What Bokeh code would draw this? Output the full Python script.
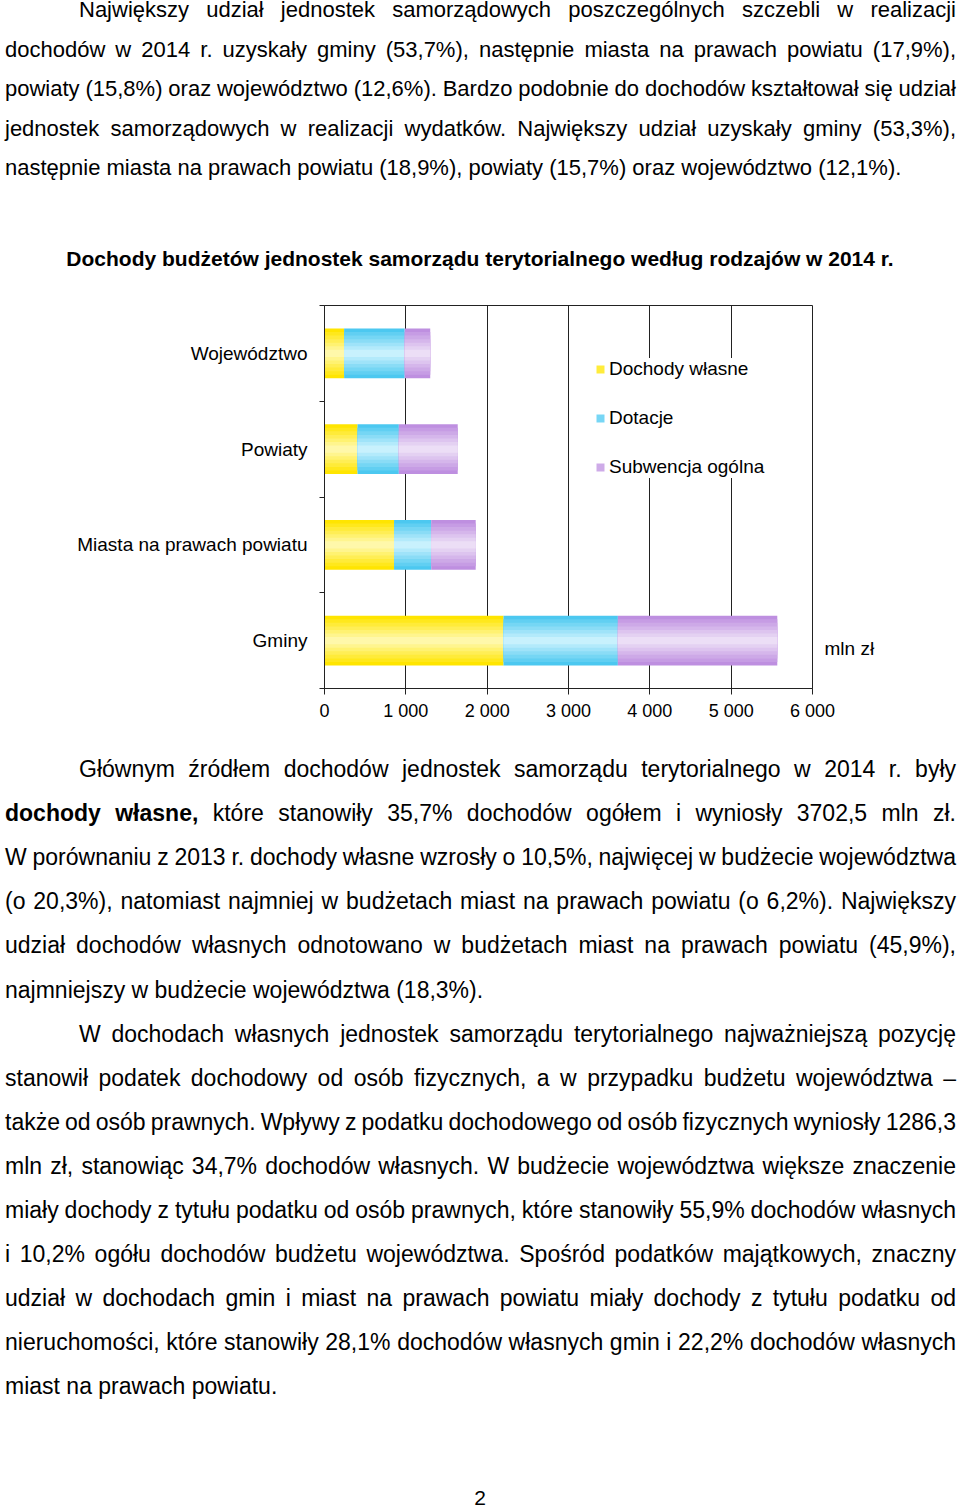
from bokeh.plotting import figure
from bokeh.models import Div, Range1d, FixedTicker, Legend, LegendItem, LinearAxis
from bokeh.layouts import column
from bokeh.embed import file_html
from bokeh.resources import INLINE

# ---------------- data ----------------
categories = ["Województwo", "Powiaty", "Miasta na prawach powiatu", "Gminy"]
series_names = ["Dochody własne", "Dotacje", "Subwencja ogólna"]
dochody_wlasne = [241, 406, 855, 2201]
dotacje = [745, 508, 457, 1406]
subwencja_ogolna = [314, 724, 547, 1960]
x_ticks = [0, 1000, 2000, 3000, 4000, 5000, 6000]
x_tick_labels = ["0", "1 000", "2 000", "3 000", "4 000", "5 000", "6 000"]
unit_label = "mln zł"
chart_title = "Dochody budżetów jednostek samorządu terytorialnego według rodzajów w 2014 r."

top_lines = [
    "Największy udział jednostek samorządowych poszczególnych szczebli w realizacji",
    "dochodów w 2014 r. uzyskały gminy (53,7%), następnie miasta na prawach powiatu (17,9%),",
    "powiaty (15,8%) oraz województwo (12,6%). Bardzo podobnie do dochodów kształtował się udział",
    "jednostek samorządowych w realizacji wydatków. Największy udział uzyskały gminy (53,3%),",
    "następnie miasta na prawach powiatu (18,9%), powiaty (15,7%) oraz województwo (12,1%).",
]
bottom_lines = [
    "Głównym źródłem dochodów jednostek samorządu terytorialnego w 2014 r. były",
    "<b>dochody własne,</b> które stanowiły 35,7% dochodów ogółem i wyniosły 3702,5 mln&nbsp;zł.",
    "W porównaniu z 2013 r. dochody własne wzrosły o 10,5%, najwięcej w budżecie województwa",
    "(o 20,3%), natomiast najmniej w budżetach miast na prawach powiatu (o 6,2%). Największy",
    "udział dochodów własnych odnotowano w budżetach miast na prawach powiatu (45,9%),",
    "najmniejszy w budżecie województwa (18,3%).",
    "W dochodach własnych jednostek samorządu terytorialnego najważniejszą pozycję",
    "stanowił podatek dochodowy od osób fizycznych, a w przypadku budżetu województwa –",
    "także od osób prawnych. Wpływy z podatku dochodowego od osób fizycznych wyniosły 1286,3",
    "mln zł, stanowiąc 34,7% dochodów własnych. W budżecie województwa większe znaczenie",
    "miały dochody z tytułu podatku od osób prawnych, które stanowiły 55,9% dochodów własnych",
    "i 10,2% ogółu dochodów budżetu województwa. Spośród podatków majątkowych, znaczny",
    "udział w dochodach gmin i miast na prawach powiatu miały dochody z tytułu podatku od",
    "nieruchomości, które stanowiły 28,1% dochodów własnych gmin i 22,2% dochodów własnych",
    "miast na prawach powiatu.",
]
top_indent = [True, False, False, False, False]
top_last = [False, False, False, False, True]
bottom_indent = [True] + [False] * 5 + [True] + [False] * 8
bottom_last = [False] * 5 + [True] + [False] * 8 + [True]
page_number = "2"

FONT = "'Liberation Sans', Arial, sans-serif"


def text_line(txt, center, fs, indent, last):
    lh = 20
    align = "left" if last else "justify"
    ws = "0px" if last else "-4px"
    st = (f"position:absolute;left:5px;width:951px;top:{center - lh / 2}px;height:{lh}px;"
          f"line-height:{lh}px;font-size:{fs}px;font-family:{FONT};color:#000;"
          f"white-space:nowrap;word-spacing:{ws};text-align:{align};text-align-last:{align};"
          f"{'text-indent:74px;' if indent else ''}")
    return f'<div style="{st}">{txt}</div>'


# ---------------- top text ----------------
top_html = ['<div style="position:relative;width:960px;height:282px;">']
for i, (t, ind, last) in enumerate(zip(top_lines, top_indent, top_last)):
    top_html.append(text_line(t, 10 + 39.5 * i, 22, ind, last))
top_html.append(
    f'<div style="position:absolute;left:0;width:960px;top:249px;height:20px;line-height:20px;'
    f'font-size:21px;font-weight:bold;font-family:{FONT};text-align:center;white-space:nowrap;color:#000;">'
    f'{chart_title}</div>')
top_html.append('</div>')
top_div = Div(text="".join(top_html), width=960, height=282, margin=0)

# ---------------- chart ----------------
n = len(categories)
p = figure(width=960, height=455, x_range=Range1d(0, 6000), y_range=Range1d(0, n),
           output_backend="svg", toolbar_location=None,
           min_border_left=324, min_border_right=148, min_border_top=23, min_border_bottom=49)
p.background_fill_color = "white"
p.border_fill_color = "white"
p.outline_line_color = "#222"

ycent = [n - 0.5 - i for i in range(n)]
edge_cols = [(255, 229, 0), (76, 200, 240), (190, 143, 224)]
center_cols = [(255, 248, 170), (200, 241, 253), (236, 222, 246)]
BAR_H = 0.52
NL = 7


def mix(a, b, t):
    return "#%02x%02x%02x" % tuple(int(round(a[k] + (b[k] - a[k]) * t)) for k in range(3))


series = [dochody_wlasne, dotacje, subwencja_ogolna]
lefts = [0] * n
legend_items = []
for j, vals in enumerate(series):
    rights = [l + v for l, v in zip(lefts, vals)]
    for k in range(NL):
        h = BAR_H * (1 - k / NL)
        col = mix(edge_cols[j], center_cols[j], k / (NL - 1))
        p.hbar(y=ycent, left=lefts, right=rights, height=h, fill_color=col, line_color=None)
    leg_r = p.hbar(y=ycent, left=lefts, right=lefts, height=0.0001,
                   fill_color=mix(edge_cols[j], center_cols[j], 0.35), line_color=None)
    legend_items.append(LegendItem(label=series_names[j], renderers=[leg_r]))
    lefts = rights

legend = Legend(items=legend_items, location=(271, 210), orientation="vertical",
                background_fill_color="white", background_fill_alpha=1.0,
                border_line_color=None, padding=32, spacing=27, margin=0,
                glyph_width=10, glyph_height=10, label_height=22, label_standoff=4,
                label_text_font_size="19px", label_text_font="Liberation Sans",
                label_text_color="#000")
p.add_layout(legend)

# axes
p.xaxis.ticker = FixedTicker(ticks=x_ticks)
p.xaxis.major_label_overrides = {t: l for t, l in zip(x_ticks, x_tick_labels)}
p.xaxis.major_tick_out = 6
p.xaxis.major_tick_in = 0
p.xaxis.minor_tick_out = 0
p.xaxis.major_label_standoff = 6
p.xaxis.major_label_text_font_size = "18px"
p.xaxis.major_label_text_font = "Liberation Sans"
p.xaxis.major_label_text_color = "#000"
p.xaxis.axis_line_color = "#222"
p.xaxis.major_tick_line_color = "#222"

p.yaxis.ticker = FixedTicker(ticks=ycent, minor_ticks=list(range(n + 1)))
p.yaxis.major_label_overrides = {y: c for y, c in zip(ycent, categories)}
p.yaxis.major_tick_out = 0
p.yaxis.major_tick_in = 0
p.yaxis.minor_tick_out = 5
p.yaxis.minor_tick_in = 0
p.yaxis.major_label_standoff = 12
p.yaxis.major_label_text_font_size = "19px"
p.yaxis.major_label_text_font = "Liberation Sans"
p.yaxis.major_label_text_color = "#000"
p.yaxis.axis_line_color = "#222"
p.yaxis.minor_tick_line_color = "#222"

p.xgrid.ticker = FixedTicker(ticks=x_ticks)
p.xgrid.grid_line_color = "#222"
p.ygrid.grid_line_color = None

# unit label on the right, next to the lowest category
p.extra_y_ranges = {"unit": Range1d(0, n)}
unit_pos = ycent[-1] - 0.08
unit_axis = LinearAxis(y_range_name="unit", ticker=FixedTicker(ticks=[unit_pos]),
                       major_label_overrides={unit_pos: unit_label},
                       axis_line_color=None, major_tick_line_color=None,
                       minor_tick_line_color=None, major_tick_out=0, major_tick_in=0,
                       major_label_standoff=12, major_label_text_font_size="19px",
                       major_label_text_font="Liberation Sans", major_label_text_color="#000")
p.add_layout(unit_axis, "right")

# ---------------- bottom text ----------------
BOT0 = 737
bot_html = ['<div style="position:relative;width:960px;height:772px;">']
for i, (t, ind, last) in enumerate(zip(bottom_lines, bottom_indent, bottom_last)):
    bot_html.append(text_line(t, 769 + 44.1 * i - BOT0, 23, ind, last))
bot_html.append(
    f'<div style="position:absolute;left:0;width:960px;top:{1498 - BOT0 - 10}px;height:20px;line-height:20px;'
    f'font-size:21px;font-family:{FONT};text-align:center;color:#000;">{page_number}</div>')
bot_html.append('</div>')
bottom_div = Div(text="".join(bot_html), width=960, height=772, margin=0)

root = column(top_div, p, bottom_div)
open("out.html", "w").write(file_html(root, INLINE))
